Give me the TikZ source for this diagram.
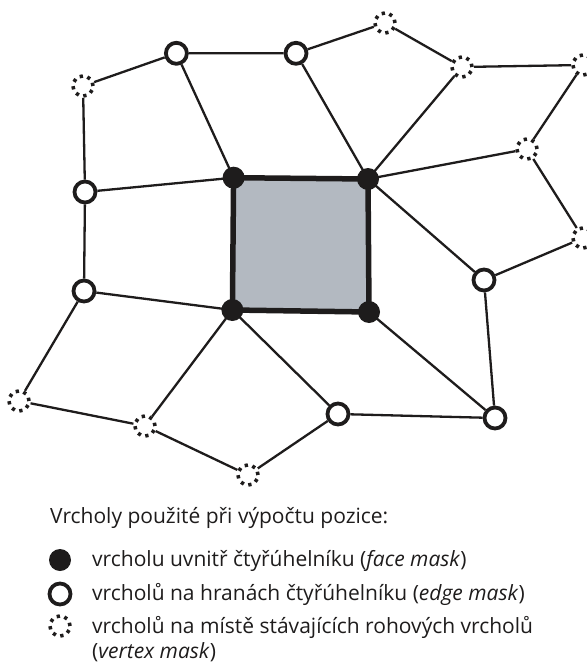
\documentclass[tikz,border=0pt]{standalone}
\usepackage{fontspec}
\setmainfont{Open Sans}
\definecolor{facefill}{RGB}{179,185,193}
\definecolor{ink}{RGB}{30,28,28}
\begin{document}
\begin{tikzpicture}[x=1pt,y=-1pt,
  edge/.style={line width=2.3pt,ink},
  facevtx/.style={circle,fill=ink,inner sep=0pt,minimum size=22pt},
  edgevtx/.style={circle,draw=ink,fill=white,line width=3.8pt,inner sep=0pt,minimum size=21pt},
  cornervtx/.style={circle,draw=ink,line width=3.6pt,dash pattern=on 3.3pt off 4.55pt,inner sep=0pt,minimum size=20pt},
  legtext/.style={anchor=base west,inner sep=0pt,text=ink,font=\fontsize{21}{26}\selectfont}]
\useasboundingbox (0,0) rectangle (586,666);

% vertices of the face
\coordinate (TL) at (233.6,177.7);
\coordinate (TR) at (368,179);
\coordinate (BR) at (369,312);
\coordinate (BL) at (232.4,310);

% the shaded quadrilateral
\fill[facefill] (TL) -- (TR) -- (BR) -- (BL) -- cycle;

% edge vertices
\node[edgevtx] (e1) at (176.4,53.3) {};
\node[edgevtx] (e2) at (296,53.3) {};
\node[edgevtx] (e3) at (85,192) {};
\node[edgevtx] (e4) at (84,291) {};
\node[edgevtx] (e5) at (484,280) {};
\node[edgevtx] (e6) at (338,414) {};
\node[edgevtx] (e7) at (495,418) {};

% corner vertices
\node[cornervtx] (v1) at (83,86) {};
\node[cornervtx] (v2) at (385,23) {};
\node[cornervtx] (v3) at (462,67) {};
\node[cornervtx] (v4) at (583,65) {};
\node[cornervtx] (v5) at (527,149) {};
\node[cornervtx] (v6) at (583,238) {};
\node[cornervtx] (v7) at (19,401) {};
\node[cornervtx] (v8) at (145,426) {};
\node[cornervtx] (v9) at (248,475) {};

% mesh edges
\draw[edge] (v1) -- (e1) -- (e2) -- (v2) -- (v3) -- (v4);
\draw[edge] (v1) -- (e3) -- (e4) -- (v7) -- (v8) -- (v9) -- (e6) -- (e7) -- (e5) -- (v6) -- (v5) -- (v4);
\draw[edge] (e1) -- (TL);
\draw[edge] (e3) -- (TL);
\draw[edge] (e2) -- (TR);
\draw[edge] (v3) -- (TR);
\draw[edge] (v5) -- (TR);
\draw[edge] (TR) -- (e5);
\draw[edge] (BR) -- (e7);
\draw[edge] (e4) -- (BL);
\draw[edge] (BL) -- (v8);
\draw[edge] (BL) -- (e6);

% thick outline of the face
\draw[line width=5.5pt,ink,line join=miter] (TL) -- (TR) -- (BR) -- (BL) -- cycle;
\node[facevtx] (f1) at (TL) {};
\node[facevtx] (f2) at (TR) {};
\node[facevtx] (f3) at (BR) {};
\node[facevtx] (f4) at (BL) {};

% legend
\node[legtext] (title) at (50,523) {Vrcholy použité při výpočtu pozice:};
\node[facevtx] (l1) at (60,560) {};
\node[legtext] (t1) at (92,566) {vrcholu uvnitř čtyřúhelníku (\textit{face mask})};
\node[edgevtx] (l2) at (60,594) {};
\node[legtext] (t2) at (92,600) {vrcholů na hranách čtyřúhelníku (\textit{edge mask})};
\node[cornervtx] (l3) at (60,626) {};
\node[legtext] (t3) at (92,633) {vrcholů na místě stávajících rohových vrcholů};
\node[legtext] (t4) at (92,658) {(\textit{vertex mask})};
\end{tikzpicture}
\end{document}
